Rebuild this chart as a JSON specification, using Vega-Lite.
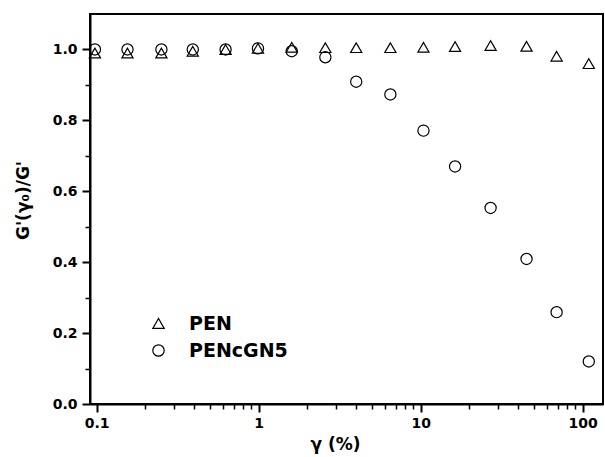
{
  "$schema": "https://vega.github.io/schema/vega-lite/v6.json",
  "autosize": "none",
  "width": 513,
  "height": 390,
  "padding": {"left": 90, "top": 14, "right": 2, "bottom": 53},
  "background": "white",
  "config": {
    "view": {"stroke": "black", "strokeWidth": 2},
    "axis": {"grid": false, "domainColor": "black", "tickColor": "black", "labelColor": "black", "titleColor": "black",
             "labelFont": "DejaVu Sans", "labelFontWeight": "bold", "labelFontSize": 14,
             "titleFont": "DejaVu Sans", "titleFontWeight": "bold", "titleFontSize": 17}
  },
  "data": {"values": [
    {"gamma": 0.0976, "series": "PEN", "ratio": 0.99},
    {"gamma": 0.155, "series": "PEN", "ratio": 0.99},
    {"gamma": 0.251, "series": "PEN", "ratio": 0.99},
    {"gamma": 0.392, "series": "PEN", "ratio": 0.995},
    {"gamma": 0.625, "series": "PEN", "ratio": 1.0},
    {"gamma": 0.99, "series": "PEN", "ratio": 1.003},
    {"gamma": 1.6, "series": "PEN", "ratio": 1.006},
    {"gamma": 2.58, "series": "PEN", "ratio": 1.005},
    {"gamma": 4.0, "series": "PEN", "ratio": 1.005},
    {"gamma": 6.5, "series": "PEN", "ratio": 1.005},
    {"gamma": 10.4, "series": "PEN", "ratio": 1.006},
    {"gamma": 16.3, "series": "PEN", "ratio": 1.008},
    {"gamma": 27, "series": "PEN", "ratio": 1.011},
    {"gamma": 45, "series": "PEN", "ratio": 1.009},
    {"gamma": 69, "series": "PEN", "ratio": 0.981},
    {"gamma": 109, "series": "PEN", "ratio": 0.96},
    {"gamma": 0.0976, "series": "PENcGN5", "ratio": 1.0},
    {"gamma": 0.155, "series": "PENcGN5", "ratio": 1.0},
    {"gamma": 0.251, "series": "PENcGN5", "ratio": 1.0},
    {"gamma": 0.392, "series": "PENcGN5", "ratio": 1.0},
    {"gamma": 0.625, "series": "PENcGN5", "ratio": 1.0},
    {"gamma": 0.99, "series": "PENcGN5", "ratio": 1.003},
    {"gamma": 1.6, "series": "PENcGN5", "ratio": 0.995},
    {"gamma": 2.58, "series": "PENcGN5", "ratio": 0.978},
    {"gamma": 4.0, "series": "PENcGN5", "ratio": 0.909},
    {"gamma": 6.5, "series": "PENcGN5", "ratio": 0.873},
    {"gamma": 10.4, "series": "PENcGN5", "ratio": 0.771},
    {"gamma": 16.3, "series": "PENcGN5", "ratio": 0.67},
    {"gamma": 27, "series": "PENcGN5", "ratio": 0.553},
    {"gamma": 45, "series": "PENcGN5", "ratio": 0.409},
    {"gamma": 69, "series": "PENcGN5", "ratio": 0.259},
    {"gamma": 109, "series": "PENcGN5", "ratio": 0.12}
  ]},
  "layer": [
    {
      "mark": {"type": "point", "filled": false, "stroke": "black", "strokeWidth": 1.2, "size": 125, "opacity": 1},
      "encoding": {
        "x": {"field": "gamma", "type": "quantitative",
              "scale": {"type": "log", "domain": [0.091, 133.4], "nice": false},
              "axis": {"orient": "bottom", "values": [0.1, 1, 10, 100], "labelExpr": "datum.value >= 1 ? format(datum.value, 'd') : format(datum.value, '.1f')",
                       "tickSize": 8, "tickWidth": 2, "domainWidth": 2, "labelPadding": 4,
                       "title": "γ (%)", "titlePadding": 6, "titleX": 245}},
        "y": {"field": "ratio", "type": "quantitative",
              "scale": {"domain": [0, 1.1], "nice": false, "zero": false},
              "axis": {"orient": "left", "values": [0, 0.2, 0.4, 0.6, 0.8, 1.0], "format": ".1f",
                       "tickSize": 8, "tickWidth": 2, "domainWidth": 2, "labelPadding": 5,
                       "title": "G'(γ₀)/G'", "titlePadding": 20, "titleY": 186}},
        "shape": {"field": "series", "type": "nominal",
                  "scale": {"domain": ["PEN", "PENcGN5"], "range": ["triangle-up", "circle"]},
                  "legend": {"title": null, "orient": "none", "legendX": 59, "legendY": 300, "padding": 0,
                             "labelFont": "DejaVu Sans", "labelFontWeight": "bold", "labelFontSize": 19, "labelColor": "black",
                             "labelOffset": 21, "rowPadding": 7, "symbolSize": 130, "symbolStrokeWidth": 1.2,
                             "symbolStrokeColor": "black", "symbolFillColor": "transparent"}}
      }
    },
    {
      "mark": {"type": "point", "opacity": 0},
      "encoding": {
        "x": {"field": "gamma", "type": "quantitative",
              "scale": {"type": "log", "domain": [0.091, 133.4], "nice": false},
              "axis": {"orient": "bottom", "values": [0.2, 0.3, 0.4, 0.5, 0.6, 0.7, 0.8, 0.9, 2, 3, 4, 5, 6, 7, 8, 9, 20, 30, 40, 50, 60, 70, 80, 90],
                       "labels": false, "domain": false, "tickSize": 5, "tickWidth": 1.5, "title": null}},
        "y": {"field": "ratio", "type": "quantitative",
              "scale": {"domain": [0, 1.1], "nice": false, "zero": false},
              "axis": {"orient": "left", "values": [0.1, 0.3, 0.5, 0.7, 0.9],
                       "labels": false, "domain": false, "tickSize": 5, "tickWidth": 1.5, "title": null}}
      }
    }
  ],
  "resolve": {"axis": {"x": "independent", "y": "independent"}}
}
